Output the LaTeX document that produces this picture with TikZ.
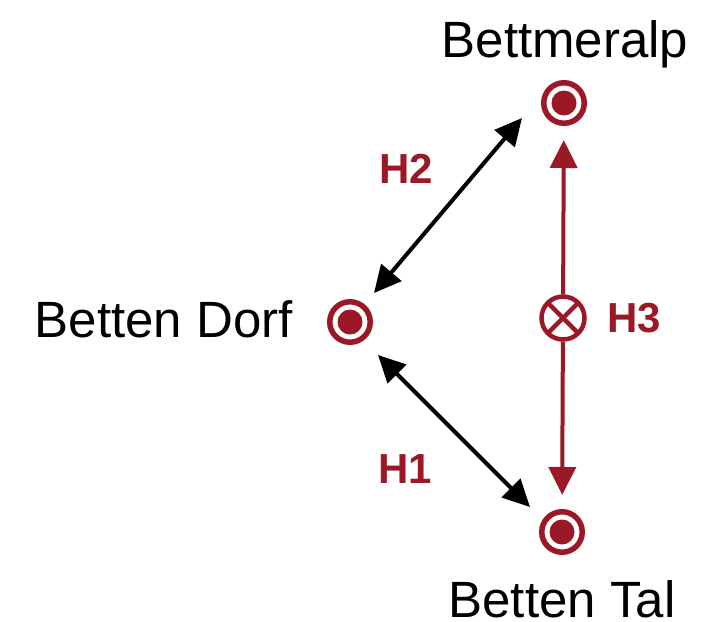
\documentclass[tikz,border=0pt]{standalone}
\usepackage{fontspec}
\setmainfont{Liberation Sans}
\usepackage{tikz}
\usetikzlibrary{arrows.meta,positioning}
\definecolor{hred}{RGB}{155,24,38}

\begin{document}
\begin{tikzpicture}[x=1pt,y=-1pt]
		\tikzset{stop/.style={circle,draw=hred,line width=5.5pt,minimum size=40.5pt,inner sep=0pt,fill=white,
				path picture={\fill[hred] (path picture bounding box.center) circle (12.5pt);}}}
		\tikzset{valve/.style={circle,draw=hred,line width=4.5pt,minimum size=43pt,inner sep=0pt,fill=white,
				path picture={\draw[hred,line width=4.5pt] (path picture bounding box.north west) -- (path picture bounding box.south east)
					(path picture bounding box.north east) -- (path picture bounding box.south west);}}}
		\tikzset{place/.style={font=\fontsize{51}{55}\selectfont,inner sep=0pt,anchor=base}}
		\tikzset{hlabel/.style={font=\fontsize{42}{46}\selectfont\bfseries,text=hred,inner sep=0pt,anchor=base}}
		\tikzset{link/.style={line width=4pt,{Triangle[length=27pt,width=26pt]}-{Triangle[length=27pt,width=26pt]}}}
		\tikzset{flow/.style={draw=hred,line width=4pt,-{Triangle[length=28pt,width=27pt]},shorten >=14pt}}
		\useasboundingbox (0,0) rectangle (724,622);
		% stops
		\node[stop] (alp) at (564,103) {};
		\node[stop] (dorf) at (350,322) {};
		\node[stop] (tal) at (562,532) {};
		\node[valve] (v3) at (563,318) {};
		% names
		\node[place] (alplabel) at (565,57) {Bettmeralp};
		\node[place,anchor=base east] (dorflabel) at (293,337) {Betten Dorf};
		\node[place] (tallabel) at (562,617) {Betten Tal};
		% links
		\coordinate (h2a) at (374,293);
		\coordinate (h2b) at (522,118);
		\coordinate (h1a) at (378,355);
		\coordinate (h1b) at (530,507);
		\draw[link] (h2a) -- (h2b);
		\draw[link] (h1a) -- (h1b);
		\draw[flow] (v3) -- (alp);
		\draw[flow] (v3) -- (tal);
		\node[hlabel] (h2) at (406,183) {H2};
		\node[hlabel] (h1) at (405,483) {H1};
		\node[hlabel] (h3) at (634,332) {H3};
	\end{tikzpicture}
\end{document}
